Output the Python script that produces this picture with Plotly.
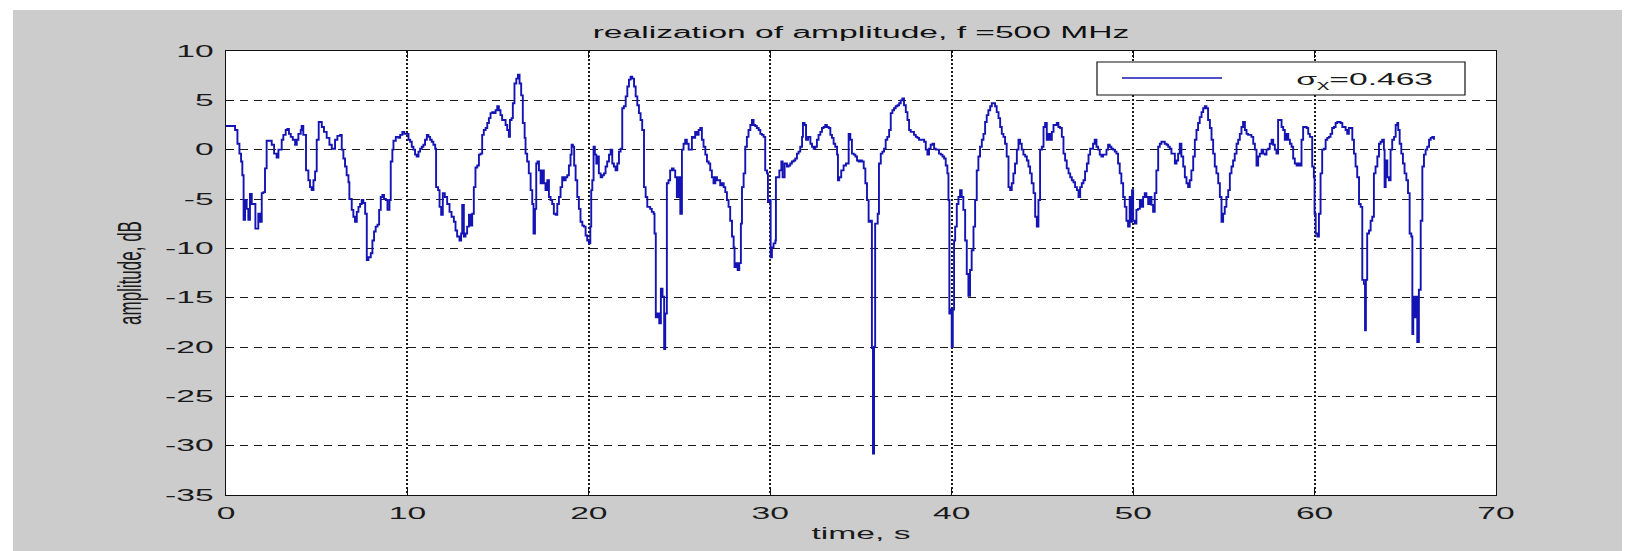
import plotly.graph_objects as go

# ---------------- data ----------------
seg1_t = [0.00, 0.40, 0.50, 0.63, 0.74, 0.83, 0.90, 0.97, 1.05, 1.14, 1.23, 1.32, 1.42, 1.51, 1.62, 1.69, 1.78, 1.88,
          1.97, 2.06, 2.15, 2.24, 2.43, 2.52, 2.65, 2.79, 2.89, 3.07, 3.16, 3.29, 3.38, 3.47, 3.57, 3.68, 3.81, 3.90,
          3.99, 4.12, 4.17, 4.26, 4.41, 4.54, 4.63, 4.72, 4.82, 4.91, 5.00, 5.11, 5.28, 5.40, 5.55, 5.70, 5.83, 5.92,
          6.01, 6.14, 6.29, 6.38, 6.47, 6.56, 6.65, 6.75, 6.80, 6.93, 7.02, 7.11, 7.21, 7.30, 7.39, 7.48, 7.57, 7.67,
          7.76, 7.85, 7.98, 8.07, 8.16, 8.25, 8.35, 8.44, 8.53, 8.62, 8.71, 8.81, 8.90, 9.01, 9.08, 9.17, 9.23, 9.36,
          9.50, 9.60, 9.72, 9.83, 9.96, 10.06, 10.15, 10.24, 10.33, 10.42, 10.51, 10.61, 10.70, 10.79, 10.88, 10.97,
          11.07, 11.16, 11.25, 11.34, 11.43, 11.53]
seg1_v = [2.4, 2.4, 2.0, 0.6, -0.4, -1.2, -2.6, -7.1, -5.1, -6.0, -7.1, -4.5, -5.5, -5.5, -8.0, -8.0, -6.5, -7.3,
          -4.4, -4.3, -1.9, 0.9, 0.9, 0.5, -0.4, -0.8, 0.0, 1.0, 1.5, 2.0, 2.1, 1.6, 1.3, 1.0, 0.5, 1.0,
          1.6, 2.0, 2.4, 1.5, -2.1, -3.1, -3.8, -4.1, -3.1, -2.2, 1.0, 2.8, 2.3, 1.8, 1.2, 0.5, 0.1, 0.1,
          1.0, 1.4, 1.5, 0.0, -0.9, -1.7, -2.6, -3.3, -5.0, -6.1, -6.8, -7.3, -6.3, -5.8, -5.5, -5.1, -5.4, -6.5,
          -11.2, -10.9, -10.5, -9.2, -8.3, -7.8, -7.6, -6.1, -4.8, -4.6, -5.0, -5.1, -6.1, -5.1, -1.2, 0.0, 0.9, 1.3,
          1.2, 1.5, 1.8, 1.6, 1.6, 1.0, 0.8, 0.3, 0.0, -0.5, -0.7, -0.2, 0.1, 0.3, 0.5, 1.0,
          1.5, 1.3, 1.0, 0.8, 0.5, 0.1]

seg2_t = [11.58, 11.69, 11.77, 11.86, 11.95, 12.06, 12.19, 12.32, 12.43, 12.56, 12.65, 12.74, 12.87, 12.96, 13.02,
          13.11, 13.20, 13.29, 13.39, 13.48, 13.57, 13.66, 13.75, 13.85, 13.94, 14.03, 14.12, 14.21, 14.31, 14.40,
          14.49, 14.58, 14.67, 14.76, 14.86, 14.95, 15.04, 15.13, 15.22, 15.41, 15.50, 15.59, 15.65, 15.74, 15.81,
          15.90, 16.00, 16.09, 16.18, 16.27, 16.36, 16.46, 16.51, 16.60, 16.69, 16.79, 16.88, 16.95, 17.03, 17.10,
          17.17, 17.25, 17.34, 17.43, 17.52, 17.61, 17.71, 17.80, 17.89, 17.98, 18.07, 18.17, 18.26, 18.35, 18.44,
          18.53, 18.62, 18.72, 18.81, 18.90, 18.99, 19.05, 19.12, 19.19, 19.27, 19.36, 19.45, 19.54, 19.64, 19.73,
          19.82, 19.91, 20.00, 20.08, 20.13, 20.19, 20.26, 20.33, 20.41, 20.46, 20.55, 20.65, 20.74, 20.83, 20.92,
          21.01, 21.11, 21.20, 21.29, 21.38, 21.47, 21.57, 21.66, 21.75, 21.84, 21.93, 22.03, 22.12, 22.21, 22.30,
          22.39, 22.49, 22.58, 22.67, 22.76, 22.85, 22.94, 23.04, 23.13, 23.22]
seg2_v = [-3.8, -4.1, -5.8, -6.6, -4.4, -4.8, -5.5, -6.3, -6.8, -7.3, -8.2, -8.8, -9.2, -8.5, -5.6,
          -8.8, -8.5, -7.8, -6.6, -7.7, -6.5, -3.8, -1.8, -1.6, -0.5, -0.4, 1.5, 2.0, 2.2, 2.7,
          3.2, 3.7, 3.8, 3.7, 4.0, 4.4, 4.0, 3.5, 3.0, 2.5, 2.0, 1.3, 3.0, 3.2, 4.7,
          6.7, 7.2, 7.6, 6.7, 5.5, 2.7, 1.2, -0.4, -1.2, -2.4, -4.1, -5.5, -8.5, -6.0, -1.4,
          -1.2, -2.1, -3.4, -2.1, -3.4, -4.1, -3.1, -4.8, -5.1, -5.5, -6.5, -6.6, -5.5, -4.8, -3.8,
          -2.8, -3.1, -2.8, -2.6, -1.6, -0.5, 0.5, 0.3, -1.6, -3.1, -4.8, -6.0, -7.3, -7.7, -7.8,
          -8.7, -9.2, -9.5, -7.8, -4.1, -3.1, 0.3, -0.5, -1.4, -0.7, -2.4, -2.8, -2.6, -2.4, -1.7,
          -1.2, -0.5, 0.0, -1.4, -1.7, -2.1, -1.4, -0.2, 0.1, 4.2, 4.4, 5.4, 6.4, 7.1, 7.4,
          7.2, 6.4, 5.4, 4.5, 3.7, 3.0, 2.0, -3.8, -4.8, -5.8]

seg3_t = [23.38, 23.47, 23.57, 23.62, 23.69, 23.79, 23.88, 23.97, 24.06, 24.15, 24.21, 24.30, 24.39, 24.48, 24.58,
          24.67, 24.76, 24.85, 24.94, 25.04, 25.13, 25.22, 25.31, 25.40, 25.50, 25.59, 25.68, 25.77, 25.86, 25.96,
          26.05, 26.14, 26.23, 26.32, 26.42, 26.51, 26.60, 26.69, 26.78, 26.87, 26.97, 27.06, 27.15, 27.24, 27.33,
          27.43, 27.52, 27.61, 27.70, 27.79, 27.89, 27.98, 28.03, 28.11, 28.20, 28.29, 28.38, 28.44, 28.53, 28.62,
          28.71, 28.80, 28.90, 28.99, 29.08, 29.17, 29.26, 29.36, 29.45, 29.54, 29.63, 29.72, 29.82, 29.87, 29.94,
          30.02, 30.09, 30.18, 30.28, 30.31, 30.42, 30.50, 30.61, 30.68, 30.79, 30.92, 31.01, 31.10, 31.19, 31.29,
          31.38, 31.47, 31.56, 31.65, 31.75, 31.80, 31.89, 31.97, 32.08, 32.21, 32.30, 32.39, 32.48, 32.57, 32.66,
          32.76, 32.85, 32.94, 33.03, 33.12, 33.22, 33.31, 33.40, 33.49, 33.58, 33.68, 33.73, 33.80, 33.91, 34.04,
          34.17, 34.26, 34.32, 34.41, 34.50, 34.60, 34.69, 34.78, 34.87, 34.96, 35.05, 35.15, 35.24, 35.33, 35.42,
          35.51, 35.60, 35.66, 35.72, 35.78]
seg3_v = [-6.0, -6.3, -6.5, -8.5, -17.0, -16.6, -17.6, -14.1, -14.9, -20.2, -16.6, -3.4, -3.1, -2.1, -1.9,
          -2.1, -2.8, -4.8, -2.8, -6.5, 0.0, 0.6, 1.0, 0.6, 0.0, 0.0, 1.3, 1.2, 1.8, 1.5,
          2.0, 2.2, 1.0, 0.3, -0.5, -1.2, -1.4, -2.1, -2.8, -3.4, -2.8, -3.1, -3.1, -3.6, -3.4,
          -3.8, -4.3, -5.1, -5.8, -7.2, -8.8, -9.9, -11.9, -11.5, -12.2, -11.5, -7.5, -3.8, -2.4, 0.3,
          1.3, 2.0, 2.5, 3.0, 2.5, 2.4, 2.2, 2.0, 1.6, 1.5, 1.3, -2.1, -2.4, -5.3, -5.1,
          -10.9, -9.9, -9.5, -9.2, -2.8, -2.8, -2.1, -1.2, -2.8, -1.4, -1.7, -1.6, -1.4, -1.2, -1.1,
          -0.9, -0.4, -0.2, 0.3, 1.3, 2.7, 2.5, 1.0, 1.3, 0.6, 0.3, 0.1, 0.3, 1.0, 1.5,
          1.8, 2.2, 2.3, 2.5, 2.3, 2.2, 1.5, 1.2, 0.6, 0.3, -0.5, -3.1, -2.8, -2.1, -1.6,
          -1.4, -1.4, 1.6, 1.0, -0.4, -0.5, -0.7, -1.1, -1.2, -1.1, -1.2, -1.9, -3.4, -5.1, -7.3,
          -7.2, -20.1, -30.8, -20.0, -7.5]

seg4_t = [35.92, 35.99, 36.09, 36.18, 36.27, 36.36, 36.45, 36.55, 36.64, 36.73, 36.82, 36.91, 37.01, 37.10, 37.19,
          37.28, 37.37, 37.47, 37.56, 37.65, 37.74, 37.83, 37.92, 38.02, 38.11, 38.20, 38.29, 38.38, 38.48, 38.57,
          38.66, 38.75, 38.84, 38.94, 39.03, 39.12, 39.21, 39.30, 39.40, 39.49, 39.58, 39.67, 39.76, 39.82, 39.87,
          39.95, 40.00, 40.06, 40.13, 40.19, 40.28, 40.37, 40.46, 40.55, 40.64, 40.74, 40.83, 40.92, 41.01, 41.10,
          41.20, 41.29, 41.38, 41.47, 41.56, 41.66, 41.75, 41.84, 41.93, 42.02, 42.12, 42.21, 42.30, 42.39, 42.48,
          42.58, 42.67, 42.76, 42.85, 42.94, 43.03, 43.13, 43.22, 43.31, 43.40, 43.49, 43.59, 43.68, 43.77, 43.86,
          43.95, 44.05, 44.14, 44.23, 44.32, 44.41, 44.51, 44.60, 44.69, 44.78, 44.87, 44.97, 45.06, 45.15, 45.24,
          45.33, 45.42, 45.52, 45.61, 45.70, 45.79, 45.88, 45.98, 46.07, 46.16, 46.25, 46.34, 46.44, 46.53, 46.62,
          46.71, 46.80, 46.90, 46.99, 47.08, 47.17, 47.26, 47.35, 47.45, 47.54, 47.63]
seg4_v = [-6.5, -1.4, -0.4, -0.2, 0.1, 1.0, 1.3, 2.0, 3.7, 4.0, 4.2, 4.4, 4.5, 4.7, 5.0,
          5.2, 4.5, 3.8, 3.0, 2.0, 1.8, 1.8, 1.5, 1.3, 1.2, 1.0, 1.0, 1.0, 0.8, 0.0,
          -0.5, 0.1, 0.5, 0.6, 0.1, 0.0, 0.0, -0.4, -0.5, -0.7, -0.9, -1.6, -2.4, -5.1, -16.6,
          -16.2, -20.0, -16.2, -9.2, -7.8, -5.5, -4.8, -4.1, -4.8, -6.1, -9.2, -12.6, -14.8, -12.2, -10.2,
          -7.8, -5.1, -2.1, -0.7, 0.3, 1.0, 1.6, 2.8, 3.5, 4.0, 4.4, 4.7, 4.7, 4.4, 3.8,
          3.2, 2.3, 1.6, 1.3, 0.6, -0.7, -3.8, -4.1, -3.4, -2.4, -1.4, 0.0, 1.0, 0.6, 0.0,
          -0.5, -0.7, -1.1, -1.7, -2.4, -3.4, -4.4, -6.8, -7.8, -5.1, 0.0, 0.3, 2.3, 2.7, 1.0,
          1.6, 1.0, 1.8, 2.5, 2.5, 2.7, 2.3, 2.2, 1.3, -0.4, -1.1, -1.9, -2.4, -2.8, -3.1,
          -3.3, -3.8, -4.1, -4.8, -3.8, -3.4, -3.1, -2.2, -1.4, -0.5, 0.1]

seg5_t = [47.79, 47.88, 47.98, 48.07, 48.16, 48.25, 48.34, 48.44, 48.53, 48.62, 48.71, 48.80, 48.89, 48.99, 49.08,
          49.17, 49.26, 49.35, 49.45, 49.54, 49.63, 49.72, 49.81, 49.87, 49.94, 50.00, 50.09, 50.18, 50.27, 50.37,
          50.46, 50.55, 50.64, 50.73, 50.83, 50.92, 51.01, 51.10, 51.19, 51.28, 51.38, 51.47, 51.56, 51.65, 51.74,
          51.84, 51.93, 52.02, 52.11, 52.20, 52.30, 52.39, 52.48, 52.57, 52.66, 52.76, 52.85, 52.94, 53.03, 53.12,
          53.21, 53.31, 53.40, 53.49, 53.58, 53.67, 53.77, 53.86, 53.95, 54.04, 54.13, 54.23, 54.32, 54.41, 54.50,
          54.59, 54.69, 54.78, 54.87, 54.96, 55.05, 55.14, 55.24, 55.33, 55.42, 55.51, 55.60, 55.70, 55.79, 55.88,
          55.97, 56.06, 56.16, 56.25, 56.34, 56.43, 56.52, 56.62, 56.71, 56.80, 56.89, 56.98, 57.08, 57.17, 57.26,
          57.35, 57.44, 57.53, 57.63, 57.72, 57.81, 57.90, 57.99, 58.09, 58.18, 58.27, 58.36, 58.45, 58.55, 58.64,
          58.73, 58.82, 58.91, 59.01, 59.10, 59.19, 59.28, 59.37, 59.46, 59.56, 59.65, 59.74]
seg5_v = [0.6, 1.0, 0.3, 0.0, -0.5, -0.7, -0.5, -0.5, 0.0, 0.5, 0.3, 0.1, 0.0, -0.2, -0.4,
          -1.4, -2.4, -3.4, -4.8, -5.8, -7.2, -7.8, -4.8, -7.3, -4.1, -7.2, -7.5, -6.1, -6.0, -5.1,
          -5.8, -4.8, -4.4, -4.8, -5.5, -4.8, -5.6, -6.3, -4.4, -2.1, 0.3, 0.6, 0.8, 0.8, 0.6,
          0.5, 0.3, 0.1, -0.4, -0.4, -1.4, -1.1, -0.4, 0.6, -0.7, -1.7, -2.8, -3.4, -3.8, -3.1,
          -2.1, -0.7, 1.0, 2.0, 2.7, 3.3, 3.8, 4.2, 4.4, 4.2, 3.0, 2.2, 1.0, -0.4, -1.7,
          -2.4, -3.4, -4.8, -7.3, -6.5, -5.8, -4.8, -4.1, -2.4, -1.7, -1.1, -0.4, 0.6, 1.0, 1.6,
          2.3, 2.8, 2.0, 1.6, 1.5, 1.5, 1.3, 0.6, 0.0, -1.6, -0.7, -0.4, 0.0, -0.4, -0.5,
          0.0, 0.1, 0.6, 1.0, 0.5, 0.0, -0.4, 3.0, 3.0, 2.3, 2.0, 1.0, 1.6, 1.0, 0.6,
          0.3, -0.9, -1.4, -1.6, -1.4, -1.6, 1.0, 2.3, 2.3, 2.2, 1.6, 1.3]

seg6_t = [59.87, 59.96, 60.00, 60.06, 60.15, 60.24, 60.33, 60.42, 60.52, 60.61, 60.70, 60.79, 60.88, 60.97, 61.07,
          61.16, 61.25, 61.34, 61.43, 61.53, 61.62, 61.71, 61.80, 61.89, 61.99, 62.08, 62.17, 62.26, 62.35, 62.45,
          62.54, 62.63, 62.72, 62.78, 62.83, 62.90, 63.00, 63.09, 63.18, 63.27, 63.36, 63.46, 63.55, 63.64, 63.73,
          63.82, 63.86, 63.92, 64.01, 64.10, 64.19, 64.28, 64.38, 64.47, 64.56, 64.61, 64.69, 64.78, 64.87, 64.96,
          65.06, 65.15, 65.24, 65.33, 65.39, 65.44, 65.51, 65.61, 65.66, 65.75, 65.85, 65.94, 66.03, 66.12, 66.21,
          66.31, 66.40, 66.49, 66.58]
seg6_v = [-1.7, -2.8, -6.5, -8.5, -8.8, -6.5, -2.4, 0.0, 0.1, 1.0, 1.2, 1.3, 1.6, 2.2, 2.3,
          2.7, 2.8, 2.8, 2.7, 2.3, 2.3, 2.0, 1.6, 2.2, 2.2, 1.0, -0.4, -1.7, -2.8, -5.5,
          -5.8, -13.2, -13.6, -18.3, -13.2, -8.5, -8.2, -7.2, -6.8, -2.4, -1.7, -0.7, 0.6, 0.8, 1.0,
          0.0, -3.8, -1.1, -2.8, -3.1, 0.0, 1.0, 1.3, 2.5, 2.7, 2.0, 0.6, -0.4, -1.4, -2.4,
          -3.1, -4.4, -8.5, -8.8, -18.7, -14.9, -17.0, -14.9, -19.5, -14.2, -7.2, -1.7, -0.5, 0.0, 0.3,
          1.0, 1.2, 1.3, 1.0]

time_s = seg1_t + seg2_t + seg3_t + seg4_t + seg5_t + seg6_t
amplitude_db = seg1_v + seg2_v + seg3_v + seg4_v + seg5_v + seg6_v

x_ticks = [0, 10, 20, 30, 40, 50, 60, 70]
y_ticks = [10, 5, 0, -5, -10, -15, -20, -25, -30, -35]

title_text = "realization of amplitude, f =500 MHz"
x_title = "time, s"
y_title = "amplitude, dB"
legend_label = "σ<sub>χ</sub>=0.463"

# ---------------- figure ----------------
W, H = 1635, 551
L, R, T, B = 226, 1496, 51, 495   # plot-area pixel box
LINE_COLOR = "#1414b4"
FONT = "Liberation Sans, Arial, Helvetica, sans-serif"


def px_x(p):
    return (p - L) / (R - L)


def px_y(p):
    return (B - p) / (B - T)


fig = go.Figure()
fig.add_trace(go.Scatter(
    x=time_s, y=amplitude_db, mode="lines",
    line=dict(color=LINE_COLOR, width=1.9, shape="hv"),
    name=legend_label, showlegend=False,
))

axis_common = dict(
    showline=True, linecolor="#111111", linewidth=1.3, mirror="ticks",
    ticks="inside", ticklen=7, tickwidth=1, tickcolor="#111111",
    zeroline=False, showgrid=True, gridcolor="#1a1a1a",
    tickfont=dict(family=FONT, size=16, color="#1a1a1a"),
)

fig.update_xaxes(
    range=[0, 70], tickvals=x_ticks, ticktext=[str(v) for v in x_ticks],
    griddash="2px,2px", gridwidth=2, ticklabelstandoff=4,
    title=dict(text=x_title, font=dict(family=FONT, size=16, color="#1a1a1a"), standoff=6),
    **axis_common,
)
fig.update_yaxes(
    range=[-35, 10], tickvals=y_ticks, ticktext=[str(v) for v in y_ticks],
    griddash="8px,6px", gridwidth=1, ticklabelstandoff=8,
    title=dict(text=y_title, font=dict(family=FONT, size=17, color="#1a1a1a"), standoff=50),
    **axis_common,
)

shapes = [
    # white frame around the grey figure area
    dict(type="rect", xref="paper", yref="paper", x0=-0.5, x1=1.5, y0=px_y(10), y1=px_y(-50),
         fillcolor="white", line=dict(width=0), layer="above"),
    dict(type="rect", xref="paper", yref="paper", x0=px_x(-50), x1=px_x(13), y0=px_y(600), y1=px_y(-50),
         fillcolor="white", line=dict(width=0), layer="above"),
    dict(type="rect", xref="paper", yref="paper", x0=px_x(1622), x1=px_x(1700), y0=px_y(600), y1=px_y(-50),
         fillcolor="white", line=dict(width=0), layer="above"),
    # legend box
    dict(type="rect", xref="paper", yref="paper", x0=px_x(1097), x1=px_x(1465), y0=px_y(95), y1=px_y(62),
         fillcolor="white", line=dict(color="#111111", width=1.2), layer="above"),
    dict(type="line", xref="paper", yref="paper", x0=px_x(1122), x1=px_x(1222), y0=px_y(78), y1=px_y(78),
         line=dict(color=LINE_COLOR, width=1.5), layer="above"),
]

annotations = [
    dict(text=legend_label, xref="paper", yref="paper", x=px_x(1364), y=px_y(80),
         xanchor="center", yanchor="middle", showarrow=False,
         font=dict(family=FONT, size=16, color="#1a1a1a")),
]

fig.update_layout(
    width=W, height=H,
    margin=dict(l=L, r=W - R, t=T, b=H - B, pad=0),
    paper_bgcolor="#cccccc", plot_bgcolor="white",
    showlegend=False,
    title=dict(text=title_text, x=0.5, xref="paper", xanchor="center",
               y=1 - 32 / H, yref="container", yanchor="middle",
               font=dict(family=FONT, size=16, color="#111111")),
    shapes=shapes, annotations=annotations,
)

# The reference was stretched horizontally; widen text glyphs the same way.
post = """
var s = document.createElement('style');
s.textContent = `
 g.g-gtitle, g.xtick, g.g-xtitle, g.annotation-text-g {
   transform-box: fill-box; transform-origin: 50% 50%; transform: scaleX(2.1); }
 g.ytick { transform-box: fill-box; transform-origin: 100% 50%; transform: scaleX(2.1); }
 g.g-ytitle { transform-box: fill-box; transform-origin: 50% 50%; transform: scaleX(2.0); }
`;
document.head.appendChild(s);
"""

fig.write_html("out.html", post_script=post)
